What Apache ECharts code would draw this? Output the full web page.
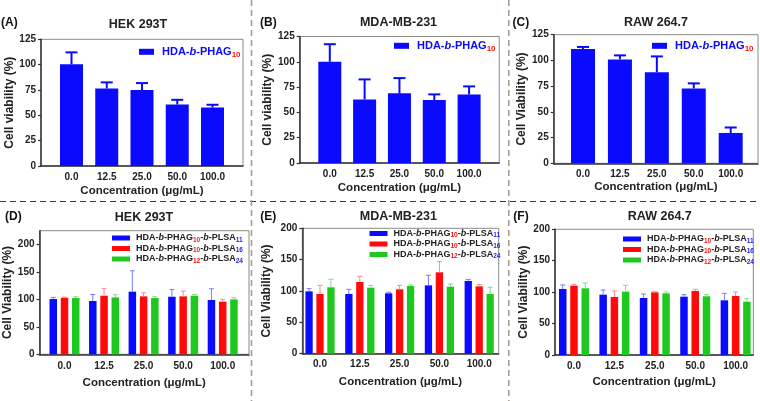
<!DOCTYPE html>
<html><head><meta charset="utf-8">
<script src="https://cdn.jsdelivr.net/npm/echarts@6/dist/echarts.min.js"></script>
<style>html,body{margin:0;padding:0;background:#fff}#c{width:760px;height:401px}</style>
</head><body><div id="c"></div>
<script>
// ---------- data ----------
const categories = ['0.0', '12.5', '25.0', '50.0', '100.0'];
const topName = 'HDA-b-PHAG10';
const bottomNames = ['HDA-b-PHAG10-b-PLSA11', 'HDA-b-PHAG10-b-PLSA16', 'HDA-b-PHAG12-b-PLSA24'];

// (A) HEK 293T
const hekMean = [100.3, 76.5, 74.9, 60.7, 57.7];
const hekSD = [11.8, 6.0, 6.9, 4.6, 2.7];
// (B) MDA-MB-231
const mdaMean = [100.0, 62.8, 68.8, 62.2, 67.8];
const mdaSD = [17.4, 19.8, 15.1, 5.6, 7.9];
// (C) RAW 264.7
const rawMean = [111.1, 101.0, 88.5, 72.8, 29.5];
const rawSD = [2.0, 3.9, 15.4, 4.9, 5.3];

// (D) HEK 293T
const hekP11Mean = [100.6, 97.0, 114.0, 104.8, 98.8];
const hekP11SD = [3.0, 12.0, 38.0, 13.2, 20.6];
const hekP16Mean = [103.0, 106.7, 105.5, 105.5, 95.8];
const hekP16SD = [1.0, 13.3, 6.5, 9.5, 4.2];
const hekP24Mean = [102.4, 103.6, 102.4, 106.7, 100.0];
const hekP24SD = [2.4, 4.9, 2.4, 2.3, 3.0];
// (E) MDA-MB-231
const mdaP11Mean = [99.5, 95.2, 96.3, 109.0, 116.0];
const mdaP11SD = [4.2, 7.5, 1.6, 16.0, 2.6];
const mdaP16Mean = [95.2, 114.4, 102.7, 129.8, 107.4];
const mdaP16SD = [13.8, 9.0, 6.3, 17.0, 2.7];
const mdaP24Mean = [105.9, 105.3, 108.0, 106.9, 95.2];
const mdaP24SD = [12.7, 3.7, 1.6, 4.3, 10.7];
// (F) RAW 264.7
const rawP11Mean = [105.0, 96.0, 90.7, 92.8, 87.0];
const rawP11SD = [6.4, 7.4, 6.4, 3.2, 11.1];
const rawP16Mean = [110.3, 92.3, 99.7, 101.9, 93.9];
const rawP16SD = [2.2, 9.6, 1.1, 2.6, 6.4];
const rawP24Mean = [106.1, 100.8, 98.1, 93.4, 84.9];
const rawP24SD = [8.5, 10.1, 2.2, 2.6, 4.8];

const topTicks = [0, 25, 50, 75, 100, 125];
const bottomTicks = [0, 50, 100, 150, 200];

// ---------- styles / layout ----------
const FONT = 'Liberation Sans';
const BLUE = '#0a0aff', RED = '#ff0a0a', GREEN = '#1ec81e';
const ERRC = {[BLUE]: '#7c7cff', [RED]: '#ff8a8a', [GREEN]: '#86dc86'};

const panels = [
  {label: '(A)', lx: 1, ly: 22.7, title: 'HEK 293T', tx: 138, ty: 25,
   grid: {left: 41, top: 39.3, width: 202, height: 126.7}, xMin: -0.865, xMax: 4.865,
   yMax: 125, ticks: topTicks, yName: 'Cell viability (%)', yGap: 22.5, xMargin: 6, xGap: 19,
   groups: [{name: topName, mean: hekMean, sd: hekSD, color: BLUE}], barWidth: 23, top: true,
   legend: {left: 139, top: 46.3}},
  {label: '(B)', lx: 260, ly: 22.7, title: 'MDA-MB-231', tx: 398.5, ty: 22.7,
   grid: {left: 299.7, top: 36.5, width: 199.5, height: 126.5}, xMin: -0.864, xMax: 4.864,
   yMax: 125, ticks: topTicks, yName: 'Cell viability (%)', yGap: 26.5, xMargin: 6, xGap: 18.5,
   groups: [{name: topName, mean: mdaMean, sd: mdaSD, color: BLUE}], barWidth: 23, top: true,
   legend: {left: 394, top: 40.3}},
  {label: '(C)', lx: 512.5, ly: 22.7, title: 'RAW 264.7', tx: 656, ty: 22.7,
   grid: {left: 553.7, top: 34.7, width: 204.3, height: 128.6}, xMin: -0.794, xMax: 4.74,
   yMax: 125, ticks: topTicks, yName: 'Cell Viability (%)', yGap: 24.5, xMargin: 6, xGap: 17.5,
   groups: [{name: topName, mean: rawMean, sd: rawSD, color: BLUE}], barWidth: 24, top: true,
   legend: {left: 652, top: 40.3}},
  {label: '(D)', lx: 5, ly: 216.7, title: 'HEK 293T', tx: 144, ty: 217.3,
   grid: {left: 39.5, top: 230.7, width: 209.5, height: 123.6}, xMin: -0.632, xMax: 4.665,
   yMax: 225, ticks: bottomTicks, yName: 'Cell Viability (%)', yGap: 20.5, xMargin: 6.5, xGap: 22.5,
   groups: [
     {name: bottomNames[0], mean: hekP11Mean, sd: hekP11SD, color: BLUE},
     {name: bottomNames[1], mean: hekP16Mean, sd: hekP16SD, color: RED},
     {name: bottomNames[2], mean: hekP24Mean, sd: hekP24SD, color: GREEN}],
   barWidth: 7.5, top: false, legend: {left: 112, top: 233.5}},
  {label: '(E)', lx: 260.3, ly: 216.7, title: 'MDA-MB-231', tx: 398.3, ty: 216.7,
   grid: {left: 302.3, top: 228.3, width: 196.4, height: 125.4}, xMin: -0.445, xMax: 4.49,
   yMax: 200, ticks: bottomTicks, yName: 'Cell Viability (%)', yGap: 29.5, xMargin: 6, xGap: 22,
   groups: [
     {name: bottomNames[0], mean: mdaP11Mean, sd: mdaP11SD, color: BLUE},
     {name: bottomNames[1], mean: mdaP16Mean, sd: mdaP16SD, color: RED},
     {name: bottomNames[2], mean: mdaP24Mean, sd: mdaP24SD, color: GREEN}],
   barWidth: 7.3, top: false, legend: {left: 369.5, top: 229}},
  {label: '(F)', lx: 513.3, ly: 216.7, title: 'RAW 264.7', tx: 659.8, ty: 216.7,
   grid: {left: 555, top: 229.3, width: 198.3, height: 125.7}, xMin: -0.47, xMax: 4.437,
   yMax: 200, ticks: bottomTicks, yName: 'Cell Viability (%)', yGap: 25.5, xMargin: 6.5, xGap: 21,
   groups: [
     {name: bottomNames[0], mean: rawP11Mean, sd: rawP11SD, color: BLUE},
     {name: bottomNames[1], mean: rawP16Mean, sd: rawP16SD, color: RED},
     {name: bottomNames[2], mean: rawP24Mean, sd: rawP24SD, color: GREEN}],
   barWidth: 7.5, top: false, legend: {left: 623, top: 234.5}}
];

function legendText(name) {
  const m = name.match(/^HDA-b-PHAG(\d+)(?:-b-PLSA(\d+))?$/);
  let s = '{t|HDA-}{i|b}{t|-PHAG}{r|' + m[1] + '}';
  if (m[2]) s += '{t|-}{i|b}{t|-PLSA}{u|' + m[2] + '}';
  return s;
}

function errRender(offsetPx, cap, color, lw) {
  return function (params, api) {
    const x = api.value(0), v = api.value(1), e = api.value(2);
    const p0 = api.coord([x, v]);
    const p1 = api.coord([x, e]);
    const cx = p0[0] + offsetPx;
    const st = {stroke: color, lineWidth: lw};
    return {type: 'group', children: [
      {type: 'line', shape: {x1: cx, y1: p0[1], x2: cx, y2: p1[1]}, style: st},
      {type: 'line', shape: {x1: cx - cap, y1: p1[1], x2: cx + cap, y2: p1[1]}, style: st}
    ]};
  };
}

const grids = [], xAxes = [], yAxes = [], series = [], legends = [], graphics = [];
const axisLabelStyle = {fontFamily: FONT, fontWeight: 'bold', fontSize: 10, color: '#222'};
const xNameStyle = {fontFamily: FONT, fontWeight: 'bold', fontSize: 11.5, color: '#222'};
const yNameStyle = {fontFamily: FONT, fontWeight: 'bold', fontSize: 12, color: '#222'};

panels.forEach((p, i) => {
  grids.push(Object.assign({show: true, borderColor: '#8a8a8a', borderWidth: 1, backgroundColor: 'transparent'}, p.grid));
  xAxes.push({
    type: 'value', gridIndex: i, min: p.xMin, max: p.xMax,
    name: 'Concentration (\u03bcg/mL)', nameLocation: 'middle', nameGap: p.xGap, nameTextStyle: xNameStyle,
    axisLine: {show: true, onZero: false, lineStyle: {color: '#333', width: 1.5}},
    axisTick: {show: false}, splitLine: {show: false},
    axisLabel: Object.assign({customValues: [0, 1, 2, 3, 4], margin: p.xMargin,
      formatter: v => categories[Math.round(v)]}, axisLabelStyle)
  });
  yAxes.push({
    type: 'value', gridIndex: i, min: 0, max: p.yMax,
    name: p.yName, nameLocation: 'middle', nameRotate: 90, nameGap: p.yGap, nameTextStyle: yNameStyle,
    axisLine: {show: true, onZero: false, lineStyle: {color: '#333', width: 1.5}},
    axisTick: {show: true, length: 3, customValues: p.ticks, lineStyle: {color: '#333', width: 1.2}},
    splitLine: {show: false},
    axisLabel: Object.assign({customValues: p.ticks, margin: 5}, axisLabelStyle)
  });
  const n = p.groups.length;
  const gapRatio = 0.5;
  const step = p.barWidth * (1 + gapRatio);
  p.groups.forEach((g, k) => {
    series.push({
      type: 'bar', name: g.name, xAxisIndex: i, yAxisIndex: i,
      barWidth: p.barWidth, barGap: (gapRatio * 100) + '%',
      itemStyle: {color: g.color},
      data: g.mean.map((v, j) => [j, v])
    });
    const off = (k - (n - 1) / 2) * step;
    series.push({
      type: 'custom', name: 'err-' + i + '-' + k, xAxisIndex: i, yAxisIndex: i, z: 3,
      encode: {x: 0, y: [1, 2]},
      renderItem: p.top ? errRender(off, 6, g.color, 2) : errRender(off, 2.5, ERRC[g.color], 1),
      data: g.mean.map((v, j) => [j, v, v + g.sd[j]])
    });
  });
  const topL = p.top;
  const base = {fontFamily: FONT, fontWeight: 'bold', fontSize: topL ? 11 : 9, color: topL ? BLUE : '#222', lineHeight: topL ? 14 : 11};
  legends.push({
    left: p.legend.left, top: p.legend.top, orient: 'vertical',
    data: p.groups.map(g => g.name), icon: 'rect',
    itemWidth: topL ? 15 : 18, itemHeight: topL ? 6 : 5, itemGap: topL ? 0 : 0.5,
    selectedMode: false, padding: 0,
    formatter: legendText,
    textStyle: {padding: [0, 0, 0, topL ? 3 : 1], rich: {
      t: base,
      i: Object.assign({}, base, {fontStyle: 'italic'}),
      r: {fontFamily: FONT, fontWeight: 'bold', fontSize: topL ? 8 : 6.5, color: '#ff1010', verticalAlign: 'bottom', lineHeight: topL ? 7 : 5.5},
      u: {fontFamily: FONT, fontWeight: 'bold', fontSize: topL ? 8 : 6.5, color: '#2222ff', verticalAlign: 'bottom', lineHeight: topL ? 7 : 5.5}
    }}
  });
  graphics.push({type: 'text', x: p.lx, y: p.ly, silent: true,
    style: {text: p.label, fill: '#111', font: 'bold 12px "Liberation Sans"', align: 'left', verticalAlign: 'middle', textAlign: 'left', textVerticalAlign: 'middle'}});
  graphics.push({type: 'text', x: p.tx, y: p.ty, silent: true,
    style: {text: p.title, fill: '#222', font: 'bold 12.5px "Liberation Sans"', align: 'center', verticalAlign: 'middle', textAlign: 'center', textVerticalAlign: 'middle'}});
});

// separators
graphics.push({type: 'line', silent: true, shape: {x1: 0, y1: 201.5, x2: 760, y2: 201.5},
  style: {stroke: '#3a3a3a', lineWidth: 1.2, lineDash: [6, 4]}});
graphics.push({type: 'line', silent: true, shape: {x1: 251.5, y1: 0, x2: 251.5, y2: 401},
  style: {stroke: '#a89d90', lineWidth: 1.6, lineDash: [6, 4]}});
graphics.push({type: 'line', silent: true, shape: {x1: 508.8, y1: 0, x2: 508.8, y2: 401},
  style: {stroke: '#a89d90', lineWidth: 1.6, lineDash: [6, 4]}});

const chart = echarts.init(document.getElementById('c'), null, {renderer: 'canvas'});
chart.setOption({
  animation: false,
  backgroundColor: '#fff',
  textStyle: {fontFamily: FONT},
  grid: grids, xAxis: xAxes, yAxis: yAxes, series: series, legend: legends,
  graphic: {elements: graphics}
});
</script></body></html>
